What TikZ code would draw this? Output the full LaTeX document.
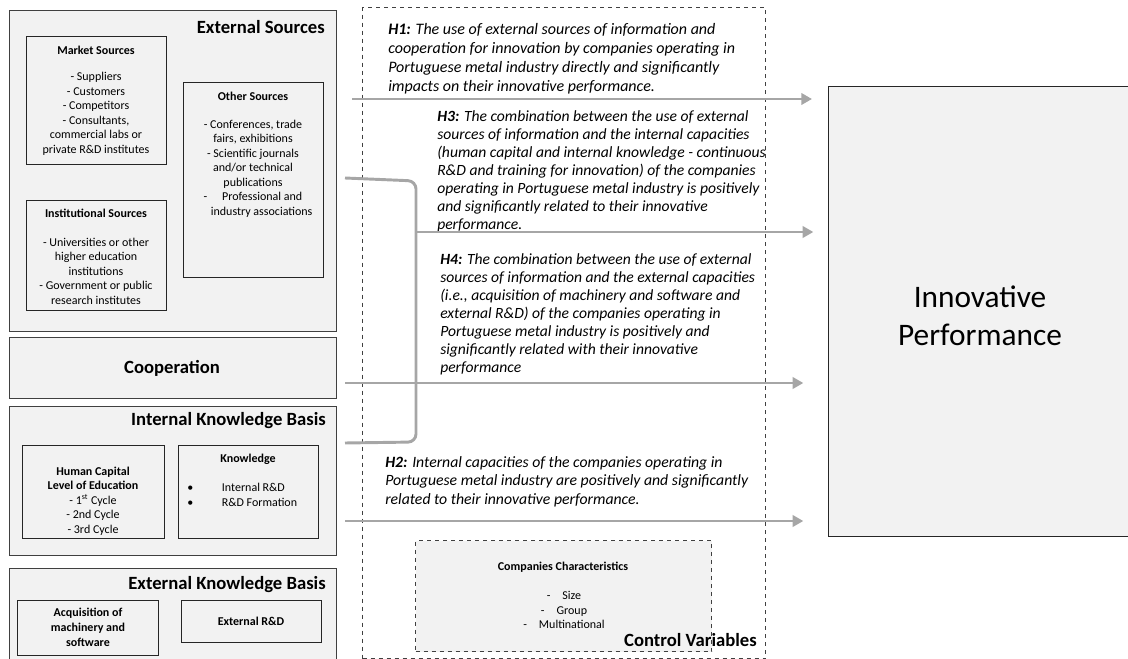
\documentclass[tikz,border=0pt]{standalone}
\usepackage{fontspec}
\setmainfont{Carlito}
\usepackage{tikz}
\usetikzlibrary{arrows.meta, positioning}
\definecolor{boxfill}{HTML}{F2F2F2}
\definecolor{boxedge}{HTML}{404040}
\definecolor{arrowgray}{HTML}{A6A6A6}
\tikzset{
  >=latex,
  % Riquadri (misure in pixel)
  wh/.style 2 args={minimum width=#1*0.75pt, minimum height=#2*0.75pt},
  outer box/.style={draw=boxedge, fill=boxfill, line width=1.1pt, anchor=north west, inner sep=0},
  inner box/.style={draw=black!85, line width=1.1pt, anchor=north west, inner sep=0},
  dash box/.style={draw=boxedge, dashed, line width=0.8pt, anchor=north west, inner sep=0},
  % Testi
  title/.style={font=\fontsize{14}{16}\selectfont\bfseries, inner sep=0},
  small/.style={font=\fontsize{9}{10.9}\selectfont, align=center, inner sep=0},
  small bold/.style={small, font=\fontsize{9}{10.9}\selectfont\bfseries},
  hyp/.style={font=\fontsize{11.7}{13.5}\selectfont\itshape, align=left, anchor=west, inner sep=0},
  % Frecce
  flow/.style={-{Triangle[length=8pt,width=8.5pt]}, draw=arrowgray, line width=2.2pt},
  brace line/.style={draw=arrowgray, line width=2.2pt, rounded corners=6pt}
}
\begin{document}
\begin{tikzpicture}[x=0.75pt, y=-0.75pt]
  \useasboundingbox (0,0) rectangle (1128,659);

  % colonna di sinistra
  \node[outer box, wh={327}{321}] (extsrc) at (9,10) {};
  \node[title, anchor=east] (extsrcT) at (325,27) {External Sources};
  \node[inner box, wh={140}{128}] (mkt) at (26,36) {};
  \node[small bold] (mktT) at (96,50) {Market Sources};
  \node[small] (mktL) at (96,114) {- Suppliers\\- Customers\\- Competitors\\- Consultants,\\commercial labs or\\private R\&D institutes};
  \node[inner box, wh={140}{195}] (oth) at (183,82) {};
  \node[small bold] (othT) at (253,96) {Other Sources};
  \node[small] (othL) at (253,168.5) {- Conferences, trade\\fairs, exhibitions\\- Scientific journals\\and/or technical\\publications\\-\hspace{11pt}Professional and\\\hspace*{13pt}industry associations};
  \node[inner box, wh={140}{110}] (inst) at (26,200) {};
  \node[small bold] (instT) at (96,213) {Institutional Sources};
  \node[small] (instL) at (96,271) {- Universities or other\\higher education\\institutions\\- Government or public\\research institutes};

  \node[outer box, wh={327}{61}] (coop) at (9,337) {};
  \node[title] (coopT) at (172,368) {Cooperation};

  \node[outer box, wh={327}{149}] (intk) at (9,406) {};
  \node[title, anchor=east] (intkT) at (326,421) {Internal Knowledge Basis};
  \node[inner box, wh={142}{93}] (hum) at (22,445) {};
  \node[small] (humL) at (93,501) {\textbf{Human Capital}\\\textbf{Level of Education}\\- 1\textsuperscript{st} Cycle\\- 2nd Cycle\\- 3rd Cycle};
  \node[inner box, wh={140}{93}] (know) at (178,445) {};
  \node[small bold] (knowT) at (248,459) {Knowledge};
  \node[small, align=left, anchor=west] (knowL) at (187,495) {\makebox[26pt][l]{\textbullet}Internal R\&D\\\makebox[26pt][l]{\textbullet}R\&D Formation};

  \node[outer box, wh={327}{110}] (extk) at (9,568) {};
  \node[title, anchor=east] (extkT) at (326,585) {External Knowledge Basis};
  \node[inner box, wh={141}{55}] (acq) at (17,600) {};
  \node[small bold, font=\fontsize{9}{11.25}\selectfont\bfseries] (acqL) at (88,627) {Acquisition of\\machinery and\\software};
  \node[inner box, wh={140}{42}] (extrd) at (181,600) {};
  \node[small bold] (extrdT) at (251,621) {External R\&D};

  % ipotesi
  \node[dash box, wh={403}{651}] (hypbox) at (362,7) {};
  \node[hyp, font=\fontsize{12}{14.25}\selectfont\itshape] (h1) at (388,58.5) {\textbf{H1:} The use of external sources of information and\\cooperation for innovation by companies operating in\\Portuguese metal industry directly and significantly\\impacts on their innovative performance.};
  \node[hyp] (h3) at (437,171) {\textbf{H3:} The combination between the use of external\\sources of information and the internal capacities\\(human capital and internal knowledge - continuous\\R\&D and training for innovation) of the companies\\operating in Portuguese metal industry is positively\\and significantly related to their innovative\\performance.};
  \node[hyp] (h4) at (440,314) {\textbf{H4:} The combination between the use of external\\sources of information and the external capacities\\(i.e., acquisition of machinery and software and\\external R\&D) of the companies operating in\\Portuguese metal industry is positively and\\significantly related with their innovative\\performance};
  \node[hyp, font=\fontsize{11.8}{13.9}\selectfont\itshape] (h2) at (385,481.5) {\textbf{H2:} Internal capacities of the companies operating in\\Portuguese metal industry are positively and significantly\\related to their innovative performance.};

  \node[dash box, fill=boxfill, line width=0.9pt, wh={296}{111}] (ctrl) at (415,540) {};
  \node[small bold] (ctrlT) at (563,567) {Companies Characteristics};
  \node[small] (ctrlL) at (564,610) {-\hspace{9pt}Size\\-\hspace{9pt}Group\\-\hspace{9pt}Multinational};
  \node[title, anchor=east] (ctrlV) at (757,640) {Control Variables};

  % risultato
  \node[outer box, draw=black!85, wh={320}{450}] (perf) at (828,86) {};
  \node[font=\fontsize{23.5}{28.5}\selectfont, align=center, inner sep=0] (perfT) at (980,316) {Innovative\\Performance};

  % parentesi e frecce
  \coordinate (brA) at (345,178);
  \coordinate (brB) at (416,181);
  \coordinate (brC) at (416,442);
  \coordinate (brD) at (345,443);
  \coordinate (br3) at (416,232);
  \draw[brace line] (brA) -- (brB) -- (brC) -- (brD);

  \coordinate (h1s) at (352,99);
  \coordinate (coops) at (345,383);
  \coordinate (h2s) at (345,521);
  \draw[flow, shorten >=12pt] (h1s) -- (h1s -| perf.west);
  \draw[flow, shorten >=11pt] (br3) -- (br3 -| perf.west);
  \draw[flow, shorten >=18.5pt] (coops) -- (coops -| perf.west);
  \draw[flow, shorten >=18.5pt] (h2s) -- (h2s -| perf.west);
\end{tikzpicture}
\end{document}
